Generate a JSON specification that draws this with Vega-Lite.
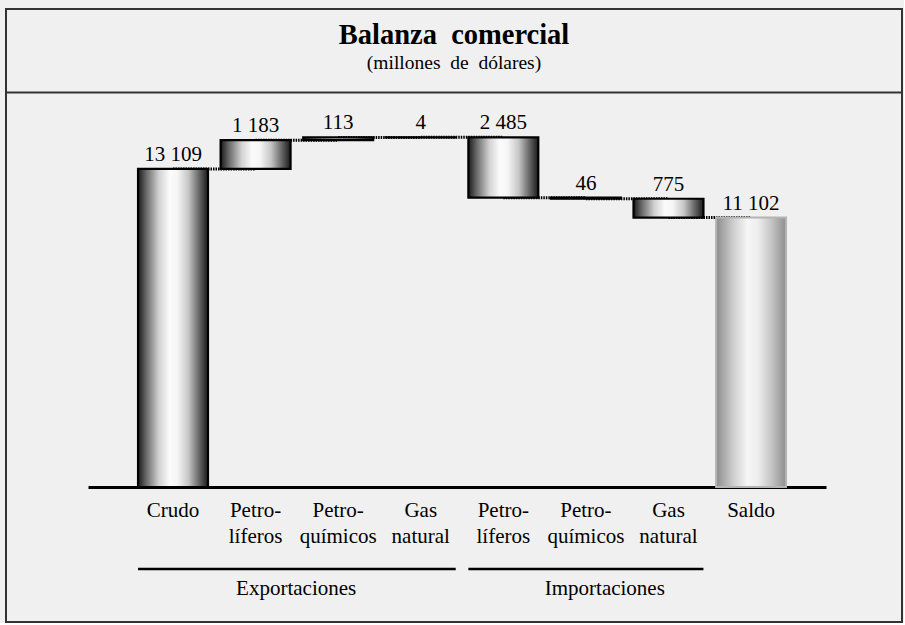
{
  "$schema": "https://vega.github.io/schema/vega-lite/v6.json",
  "background": "#f0f0f0",
  "padding": {"left": 5, "top": 9, "right": 1, "bottom": 1},
  "width": 896,
  "height": 613,
  "config": {
    "font": "Liberation Serif",
    "view": {"stroke": "#333333", "strokeWidth": 2},
    "text": {"color": "#000000"}
  },
  "datasets": {
    "bars": [
      {"cat": "a|Crudo", "low": 0, "high": 13109, "label": "13 109", "kind": "flujo"},
      {"cat": "b|Petro-|líferos", "low": 13109, "high": 14292, "label": "1 183", "kind": "flujo"},
      {"cat": "c|Petro-|químicos", "low": 14292, "high": 14405, "label": "113", "kind": "flujo"},
      {"cat": "d|Gas|natural", "low": 14405, "high": 14409, "label": "4", "kind": "flujo"},
      {"cat": "e|Petro-|líferos", "low": 11924, "high": 14409, "label": "2 485", "kind": "flujo"},
      {"cat": "f|Petro-|químicos", "low": 11878, "high": 11924, "label": "46", "kind": "flujo"},
      {"cat": "g|Gas|natural", "low": 11103, "high": 11878, "label": "775", "kind": "flujo"},
      {"cat": "h|Saldo", "low": 0, "high": 11102, "label": "11 102", "kind": "saldo"}
    ],
    "links": [
      {"from": "a|Crudo", "to": "b|Petro-|líferos", "level": 13109},
      {"from": "b|Petro-|líferos", "to": "c|Petro-|químicos", "level": 14292},
      {"from": "c|Petro-|químicos", "to": "d|Gas|natural", "level": 14405},
      {"from": "d|Gas|natural", "to": "e|Petro-|líferos", "level": 14409},
      {"from": "e|Petro-|líferos", "to": "f|Petro-|químicos", "level": 11924},
      {"from": "f|Petro-|químicos", "to": "g|Gas|natural", "level": 11878},
      {"from": "g|Gas|natural", "to": "h|Saldo", "level": 11103}
    ],
    "groups": [
      {"grupo": "Exportaciones", "first": "a|Crudo", "last": "d|Gas|natural", "at": "b|Petro-|líferos"},
      {"grupo": "Importaciones", "first": "e|Petro-|líferos", "last": "g|Gas|natural", "at": "f|Petro-|químicos"}
    ],
    "header": [
      {"titulo": "Balanza\u00a0\u00a0comercial", "subtitulo": "(millones\u00a0\u00a0de\u00a0\u00a0dólares)"}
    ]
  },
  "layer": [
    {
      "data": {"name": "links"},
      "mark": {"type": "rule", "color": "#000000", "strokeWidth": 3, "strokeDash": [1.5, 1]},
      "encoding": {
        "x": {
          "field": "from", "type": "nominal", "title": null,
          "scale": {
            "domain": ["a|Crudo", "b|Petro-|líferos", "c|Petro-|químicos", "d|Gas|natural", "e|Petro-|líferos", "f|Petro-|químicos", "g|Gas|natural", "h|Saldo"],
            "range": [82, 820],
            "paddingInner": 0.153,
            "paddingOuter": 0.545,
            "align": 0.556
          },
          "axis": {
            "title": null,
            "orient": "bottom",
            "offset": -135,
            "domainColor": "#000000",
            "domainWidth": 3,
            "ticks": false,
            "tickSize": 0,
            "grid": false,
            "labelExpr": "slice(split(datum.value, '|'), 1)",
            "labelFont": "Liberation Serif",
            "labelFontSize": 21,
            "labelColor": "#000000",
            "labelPadding": 12,
            "labelLineHeight": 26,
            "labelOverlap": false,
            "labelBound": false,
            "labelAngle": 0
          }
        },
        "x2": {"field": "to"},
        "y": {
          "field": "level", "type": "quantitative", "axis": null,
          "scale": {"domain": [0, 15000], "range": [478, 114], "nice": false, "zero": true}
        }
      }
    },
    {
      "data": {"name": "bars"},
      "transform": [{"filter": "datum.kind == 'flujo'"}],
      "mark": {
        "type": "bar",
        "stroke": "#000000",
        "strokeWidth": 2.2,
        "fill": {
          "gradient": "linear", "x1": 0, "y1": 0, "x2": 1, "y2": 0,
          "stops": [
            {"offset": 0, "color": "#1a1a1a"},
            {"offset": 0.12, "color": "#6a6a6a"},
            {"offset": 0.3, "color": "#d2d2d2"},
            {"offset": 0.45, "color": "#fbfbfb"},
            {"offset": 0.56, "color": "#f6f6f6"},
            {"offset": 0.72, "color": "#c6c6c6"},
            {"offset": 0.88, "color": "#626262"},
            {"offset": 1, "color": "#1a1a1a"}
          ]
        }
      },
      "encoding": {
        "x": {"field": "cat", "type": "nominal", "title": null},
        "y": {"field": "low", "type": "quantitative", "axis": null},
        "y2": {"field": "high"}
      }
    },
    {
      "data": {"name": "bars"},
      "transform": [{"filter": "datum.kind == 'saldo'"}],
      "mark": {
        "type": "bar",
        "stroke": "#b4b4b4",
        "strokeWidth": 2,
        "fill": {
          "gradient": "linear", "x1": 0, "y1": 0, "x2": 1, "y2": 0,
          "stops": [
            {"offset": 0, "color": "#8c8c8c"},
            {"offset": 0.25, "color": "#cfcfcf"},
            {"offset": 0.45, "color": "#f6f6f6"},
            {"offset": 0.6, "color": "#eeeeee"},
            {"offset": 0.8, "color": "#c2c2c2"},
            {"offset": 1, "color": "#8e8e8e"}
          ]
        }
      },
      "encoding": {
        "x": {"field": "cat", "type": "nominal", "title": null},
        "y": {"field": "low", "type": "quantitative", "axis": null},
        "y2": {"field": "high"}
      }
    },
    {
      "data": {"name": "bars"},
      "mark": {"type": "text", "fontSize": 21, "baseline": "alphabetic", "align": "center", "dy": -8},
      "encoding": {
        "x": {"field": "cat", "type": "nominal", "title": null},
        "y": {"field": "high", "type": "quantitative", "axis": null},
        "text": {"field": "label", "type": "nominal"}
      }
    },
    {
      "data": {"name": "groups"},
      "mark": {"type": "rule", "color": "#000000", "strokeWidth": 2.5},
      "encoding": {
        "x": {"field": "first", "type": "nominal", "title": null, "bandPosition": 0},
        "x2": {"field": "last", "bandPosition": 1},
        "y": {"datum": -3379, "type": "quantitative", "axis": null}
      }
    },
    {
      "data": {"name": "groups"},
      "transform": [{"filter": "datum.grupo == 'Exportaciones'"}],
      "mark": {"type": "text", "fontSize": 21, "baseline": "alphabetic", "align": "center"},
      "encoding": {
        "x": {"field": "at", "type": "nominal", "title": null, "bandPosition": 1.08},
        "y": {"datum": -4471, "type": "quantitative", "axis": null},
        "text": {"field": "grupo", "type": "nominal"}
      }
    },
    {
      "data": {"name": "groups"},
      "transform": [{"filter": "datum.grupo == 'Importaciones'"}],
      "mark": {"type": "text", "fontSize": 21, "baseline": "alphabetic", "align": "center"},
      "encoding": {
        "x": {"field": "at", "type": "nominal", "title": null, "bandPosition": 0.77},
        "y": {"datum": -4471, "type": "quantitative", "axis": null},
        "text": {"field": "grupo", "type": "nominal"}
      }
    },
    {
      "data": {"name": "header"},
      "mark": {"type": "rule", "color": "#333333", "strokeWidth": 2},
      "encoding": {
        "y": {"datum": 16257, "type": "quantitative", "axis": null}
      }
    },
    {
      "data": {"name": "header"},
      "mark": {"type": "text", "fontSize": 28.5, "fontWeight": "bold", "baseline": "alphabetic", "align": "center"},
      "encoding": {
        "y": {"datum": 18255, "type": "quantitative", "axis": null},
        "text": {"field": "titulo", "type": "nominal"}
      }
    },
    {
      "data": {"name": "header"},
      "mark": {"type": "text", "fontSize": 19.5, "baseline": "alphabetic", "align": "center"},
      "encoding": {
        "y": {"datum": 17225, "type": "quantitative", "axis": null},
        "text": {"field": "subtitulo", "type": "nominal"}
      }
    }
  ]
}
